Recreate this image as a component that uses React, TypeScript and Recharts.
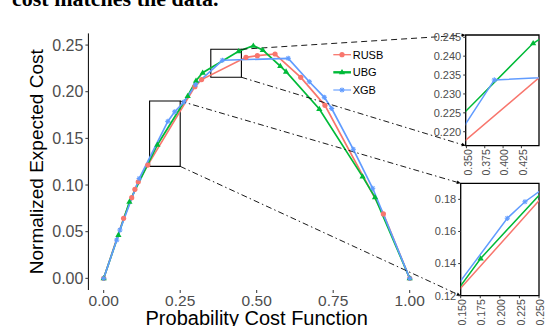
import React from 'react';
import { LineChart, Line, XAxis, YAxis, ReferenceArea, ReferenceLine, Legend, Label } from 'recharts';

// ---------------- data ----------------
const seriesNames = ['RUSB', 'UBG', 'XGB'];

const rusbX = [0, 0.065, 0.0915, 0.102, 0.113, 0.144, 0.298, 0.32, 0.465, 0.502, 0.56, 0.644, 0.723, 0.914, 1.0];
const rusbY = [0, 0.0643, 0.0864, 0.0954, 0.1035, 0.1214, 0.2054, 0.213, 0.2369, 0.2386, 0.2404, 0.2154, 0.1854, 0.069, 0];

const ubgX = [0, 0.048, 0.084, 0.1755, 0.2745, 0.3016, 0.3235, 0.441, 0.489, 0.52, 0.577, 0.596, 0.7046, 0.846, 0.8866, 1.0];
const ubgY = [0, 0.0464, 0.082, 0.1432, 0.1954, 0.2118, 0.2204, 0.2434, 0.2493, 0.2447, 0.2275, 0.2215, 0.1815, 0.109, 0.0868, 0];

const xgbX = [0, 0.0425, 0.053, 0.116, 0.2095, 0.2321, 0.262, 0.3, 0.388, 0.603, 0.672, 0.721, 0.745, 0.8157, 0.879, 1.0];
const xgbY = [0, 0.041, 0.0518, 0.107, 0.1682, 0.1785, 0.189, 0.2075, 0.2337, 0.2358, 0.2107, 0.194, 0.182, 0.1383, 0.0965, 0];

const xTicks = [0, 0.25, 0.5, 0.75, 1];
const yTicks = [0, 0.05, 0.1, 0.15, 0.2, 0.25];

const topInsetXTicks = [0.35, 0.375, 0.4, 0.425];
const topInsetYTicks = [0.22, 0.225, 0.23, 0.235, 0.24, 0.245];
const botInsetXTicks = [0.15, 0.175, 0.2, 0.225, 0.25];
const botInsetYTicks = [0.12, 0.14, 0.16, 0.18];

// zoom rectangles (data units)
const upperRectX = [0.35, 0.45];
const upperRectY = [0.2155, 0.2455];
const lowerRectX = [0.15, 0.25];
const lowerRectY = [0.12, 0.19];

// inset domains
const topInsetXDomain: [number, number] = [0.349, 0.449];
const topInsetYDomain: [number, number] = [0.2163, 0.2456];
const botInsetXDomain: [number, number] = [0.15, 0.25];
const botInsetYDomain: [number, number] = [0.12, 0.19];

// ---------------- styles / layout ----------------
const FONT = '"Liberation Sans", Arial, Helvetica, sans-serif';
const RED = '#F8766D';
const GREEN = '#00BA38';
const BLUE = '#619CFF';
const TICK_COLOR = '#4D4D4D';
const colors = [RED, GREEN, BLUE];

const W = 548;
const H = 326;
const PL = 88.4;
const PR = 425;
const PT = 33.4;
const PB = 290;
const X_DOMAIN: [number, number] = [-0.05, 1.05];
const Y_DOMAIN: [number, number] = [-0.0125, 0.2625];

const invX = (px: number) => X_DOMAIN[0] + ((px - PL) / (PR - PL)) * (X_DOMAIN[1] - X_DOMAIN[0]);
const invY = (py: number) => Y_DOMAIN[1] - ((py - PT) / (PB - PT)) * (Y_DOMAIN[1] - Y_DOMAIN[0]);

const TOP_INSET = { left: 465.7, right: 539, top: 35, bottom: 145.7 };
const BOT_INSET = { left: 460.7, right: 539, top: 183.3, bottom: 295.7 };

const toPts = (xs: number[], ys: number[]) => xs.map((x, i) => ({ x, y: ys[i] }));
const rusb = toPts(rusbX, rusbY);
const ubg = toPts(ubgX, ubgY);
const xgb = toPts(xgbX, xgbY);

// ---------------- markers ----------------
const circleDot = (color: string, r: number) => (p: any) =>
  p.cx == null || p.cy == null ? (
    <g key={`c${p.index}`} />
  ) : (
    <circle key={`c${p.index}`} cx={p.cx} cy={p.cy} r={r} fill={color} />
  );

const triDot = (color: string, s: number) => (p: any) => {
  if (p.cx == null || p.cy == null) return <g key={`t${p.index}`} />;
  const { cx, cy } = p;
  return (
    <polygon
      key={`t${p.index}`}
      points={`${cx},${cy - s} ${cx - s * 0.95},${cy + s * 0.6} ${cx + s * 0.95},${cy + s * 0.6}`}
      fill={color}
    />
  );
};

const starDot = (color: string, s: number) => (p: any) => {
  if (p.cx == null || p.cy == null) return <g key={`s${p.index}`} />;
  const { cx, cy } = p;
  const d = s * 0.7;
  return (
    <g key={`s${p.index}`} stroke={color} strokeWidth={1.1}>
      <line x1={cx - s} y1={cy} x2={cx + s} y2={cy} />
      <line x1={cx} y1={cy - s} x2={cx} y2={cy + s} />
      <line x1={cx - d} y1={cy - d} x2={cx + d} y2={cy + d} />
      <line x1={cx - d} y1={cy + d} x2={cx + d} y2={cy - d} />
    </g>
  );
};

const dotMakers = [(c: string) => circleDot(c, 2.6), (c: string) => triDot(c, 3.3), (c: string) => starDot(c, 2.6)];
const seriesData = [rusb, ubg, xgb];

// ---------------- connectors ----------------
const ArrowLine = (p: any) => {
  const { x1, y1, x2, y2, stroke, strokeDasharray, strokeWidth } = p;
  if ([x1, y1, x2, y2].some((v) => v == null || isNaN(v))) return <g />;
  const dx = x2 - x1;
  const dy = y2 - y1;
  const len = Math.sqrt(dx * dx + dy * dy) || 1;
  const ux = dx / len;
  const uy = dy / len;
  const a = 4;
  const w = 1.8;
  const bx = x2 - ux * a;
  const by = y2 - uy * a;
  return (
    <g>
      <line x1={x1} y1={y1} x2={bx} y2={by} stroke={stroke} strokeWidth={strokeWidth} strokeDasharray={strokeDasharray} />
      <polygon
        points={`${x2},${y2} ${bx - uy * w},${by + ux * w} ${bx + uy * w},${by - ux * w}`}
        fill={stroke}
      />
    </g>
  );
};

const connectors = [
  { from: { x: upperRectX[1], y: upperRectY[1] }, to: { x: invX(TOP_INSET.left), y: invY(TOP_INSET.top) }, dash: '6 4' },
  { from: { x: upperRectX[1], y: upperRectY[0] }, to: { x: invX(TOP_INSET.left), y: invY(TOP_INSET.bottom) }, dash: '6 3 1.5 3' },
  { from: { x: lowerRectX[1], y: lowerRectY[1] }, to: { x: invX(BOT_INSET.left), y: invY(BOT_INSET.top) }, dash: '6 3 1.5 3' },
  { from: { x: lowerRectX[1], y: lowerRectY[0] }, to: { x: invX(BOT_INSET.left), y: invY(BOT_INSET.bottom) }, dash: '6 3 1.5 3' },
];

// ---------------- legend ----------------
const LegendContent = () => {
  const rows = [10.7, 28.3, 46];
  const widths = [1.3, 2.4, 1.1];
  return (
    <svg width={80} height={58} style={{ display: 'block', overflow: 'visible' }}>
      {seriesNames.map((name, i) => {
        const y = rows[i];
        const marker = dotMakers[i](colors[i])({ cx: 12, cy: y, index: i });
        return (
          <g key={name}>
            <line x1={3.3} y1={y} x2={21} y2={y} stroke={colors[i]} strokeWidth={widths[i]} />
            {marker}
            <text x={22.7} y={y} dominantBaseline="central" fontSize={11} fontFamily={FONT} fill="#000">
              {name}
            </text>
          </g>
        );
      })}
    </svg>
  );
};

// ---------------- inset ----------------
const RotTick = (digits: number) => (props: any) => {
  const { x, y, payload } = props;
  const tx = x + 1.2;
  const ty = y + 1;
  return (
    <text
      x={tx}
      y={ty}
      transform={`rotate(-90 ${tx} ${ty})`}
      textAnchor="end"
      dominantBaseline="central"
      fontSize={10.5}
      fill={TICK_COLOR}
      fontFamily={FONT}
    >
      {Number(payload.value).toFixed(digits)}
    </text>
  );
};

type InsetProps = {
  box: { left: number; right: number; top: number; bottom: number };
  xDomain: [number, number];
  yDomain: [number, number];
  xTicks: number[];
  yTicks: number[];
  yDigits: number;
  chartLeft: number;
  chartTop: number;
  chartW: number;
  chartH: number;
  xAxisH: number;
};

function Inset({ box, xDomain, yDomain, xTicks, yTicks, yDigits, chartLeft, chartTop, chartW, chartH, xAxisH }: InsetProps) {
  const yAxisW = 40;
  const margin = {
    top: box.top - chartTop,
    right: chartLeft + chartW - box.right,
    left: box.left - chartLeft - yAxisW,
    bottom: chartTop + chartH - box.bottom - xAxisH,
  };
  return (
    <div style={{ position: 'absolute', left: chartLeft, top: chartTop }}>
      <LineChart width={chartW} height={chartH} margin={margin}>
        <XAxis
          type="number"
          dataKey="x"
          domain={xDomain}
          allowDataOverflow
          ticks={xTicks}
          interval={0}
          axisLine={false}
          tickSize={2.5}
          tickMargin={0}
          tickLine={{ stroke: '#333' }}
          height={xAxisH}
          tick={RotTick(3)}
        />
        <YAxis
          type="number"
          dataKey="y"
          domain={yDomain}
          allowDataOverflow
          ticks={yTicks}
          interval={0}
          axisLine={false}
          tickSize={2.5}
          tickMargin={2}
          tickLine={{ stroke: '#333' }}
          width={yAxisW}
          tickFormatter={(v: number) => v.toFixed(yDigits)}
          tick={{ fontSize: 11, fill: TICK_COLOR, fontFamily: FONT }}
        />
        {seriesData.map((d, i) => (
          <Line
            key={seriesNames[i]}
            data={d}
            dataKey="y"
            type="linear"
            stroke={colors[i]}
            strokeWidth={1.5}
            dot={dotMakers[i](colors[i])}
            activeDot={false}
            isAnimationActive={false}
          />
        ))}
        <ReferenceArea
          x1={xDomain[0]}
          x2={xDomain[1]}
          y1={yDomain[0]}
          y2={yDomain[1]}
          fill="none"
          fillOpacity={0}
          stroke="#000"
          strokeWidth={1.3}
          ifOverflow="visible"
        />
      </LineChart>
    </div>
  );
}

// ---------------- app ----------------
export default function App() {
  return (
    <div style={{ position: 'absolute', left: 0, top: 0, width: W, height: H, background: '#fff', overflow: 'hidden' }}>
      <svg width={W} height={20} style={{ position: 'absolute', left: 0, top: 0 }}>
        <text x={12} y={6} fontFamily='"Liberation Serif", "Times New Roman", serif' fontWeight="bold" fontSize={22} fill="#000">
          cost matches the data.
        </text>
      </svg>
      <div style={{ position: 'absolute', left: 0, top: 0 }}>
        <LineChart width={W} height={H} margin={{ top: PT, right: W - PR, bottom: H - PB - 30, left: PL - 60 }}>
          <XAxis
            type="number"
            dataKey="x"
            domain={X_DOMAIN}
            ticks={xTicks}
            interval={0}
            tickFormatter={(v: number) => v.toFixed(2)}
            axisLine={false}
            tickSize={3}
            tickMargin={2}
            tickLine={{ stroke: '#333' }}
            height={30}
            tick={{ fontSize: 15.5, fill: TICK_COLOR, fontFamily: FONT }}
          >
            <Label
              content={() => (
                <text x={(PL + PR) / 2} y={324.5} textAnchor="middle" fontSize={20} fontFamily={FONT} fill="#000">
                  Probability Cost Function
                </text>
              )}
            />
          </XAxis>
          <YAxis
            type="number"
            dataKey="y"
            domain={Y_DOMAIN}
            ticks={yTicks}
            interval={0}
            tickFormatter={(v: number) => v.toFixed(2)}
            axisLine={{ stroke: '#000', strokeWidth: 1 }}
            tickSize={3}
            tickMargin={2}
            tickLine={{ stroke: '#333' }}
            width={60}
            tick={{ fontSize: 16, fill: TICK_COLOR, fontFamily: FONT }}
          >
            <Label
              content={() => (
                <text
                  x={43.5}
                  y={(PT + PB) / 2}
                  transform={`rotate(-90 43.5 ${(PT + PB) / 2})`}
                  textAnchor="middle"
                  fontSize={19}
                  fontFamily={FONT}
                  fill="#000"
                >
                  Normalized Expected Cost
                </text>
              )}
            />
          </YAxis>
          {seriesData.map((d, i) => (
            <Line
              key={seriesNames[i]}
              data={d}
              dataKey="y"
              type="linear"
              stroke={colors[i]}
              strokeWidth={1.7}
              dot={dotMakers[i](colors[i])}
              activeDot={false}
              isAnimationActive={false}
            />
          ))}
          <ReferenceArea
            x1={upperRectX[0]}
            x2={upperRectX[1]}
            y1={upperRectY[0]}
            y2={upperRectY[1]}
            fill="none"
            fillOpacity={0}
            stroke="#000"
            strokeWidth={1.1}
            ifOverflow="visible"
          />
          <ReferenceArea
            x1={lowerRectX[0]}
            x2={lowerRectX[1]}
            y1={lowerRectY[0]}
            y2={lowerRectY[1]}
            fill="none"
            fillOpacity={0}
            stroke="#000"
            strokeWidth={1.1}
            ifOverflow="visible"
          />
          {connectors.map((c, i) => (
            <ReferenceLine
              key={`conn${i}`}
              segment={[c.from, c.to]}
              stroke="#000"
              strokeWidth={0.9}
              strokeDasharray={c.dash}
              ifOverflow="visible"
              shape={ArrowLine}
            />
          ))}
          <Legend
            layout="horizontal"
            verticalAlign="middle"
            align="center"
            wrapperStyle={{ left: 330, top: 44, width: 80, height: 58 }}
            content={LegendContent}
          />
        </LineChart>
      </div>
      <Inset
        box={TOP_INSET}
        xDomain={topInsetXDomain}
        yDomain={topInsetYDomain}
        xTicks={topInsetXTicks}
        yTicks={topInsetYTicks}
        yDigits={3}
        chartLeft={420}
        chartTop={25}
        chartW={128}
        chartH={150}
        xAxisH={25}
      />
      <Inset
        box={BOT_INSET}
        xDomain={botInsetXDomain}
        yDomain={botInsetYDomain}
        xTicks={botInsetXTicks}
        yTicks={botInsetYTicks}
        yDigits={2}
        chartLeft={420}
        chartTop={175}
        chartW={128}
        chartH={151}
        xAxisH={28}
      />
    </div>
  );
}
